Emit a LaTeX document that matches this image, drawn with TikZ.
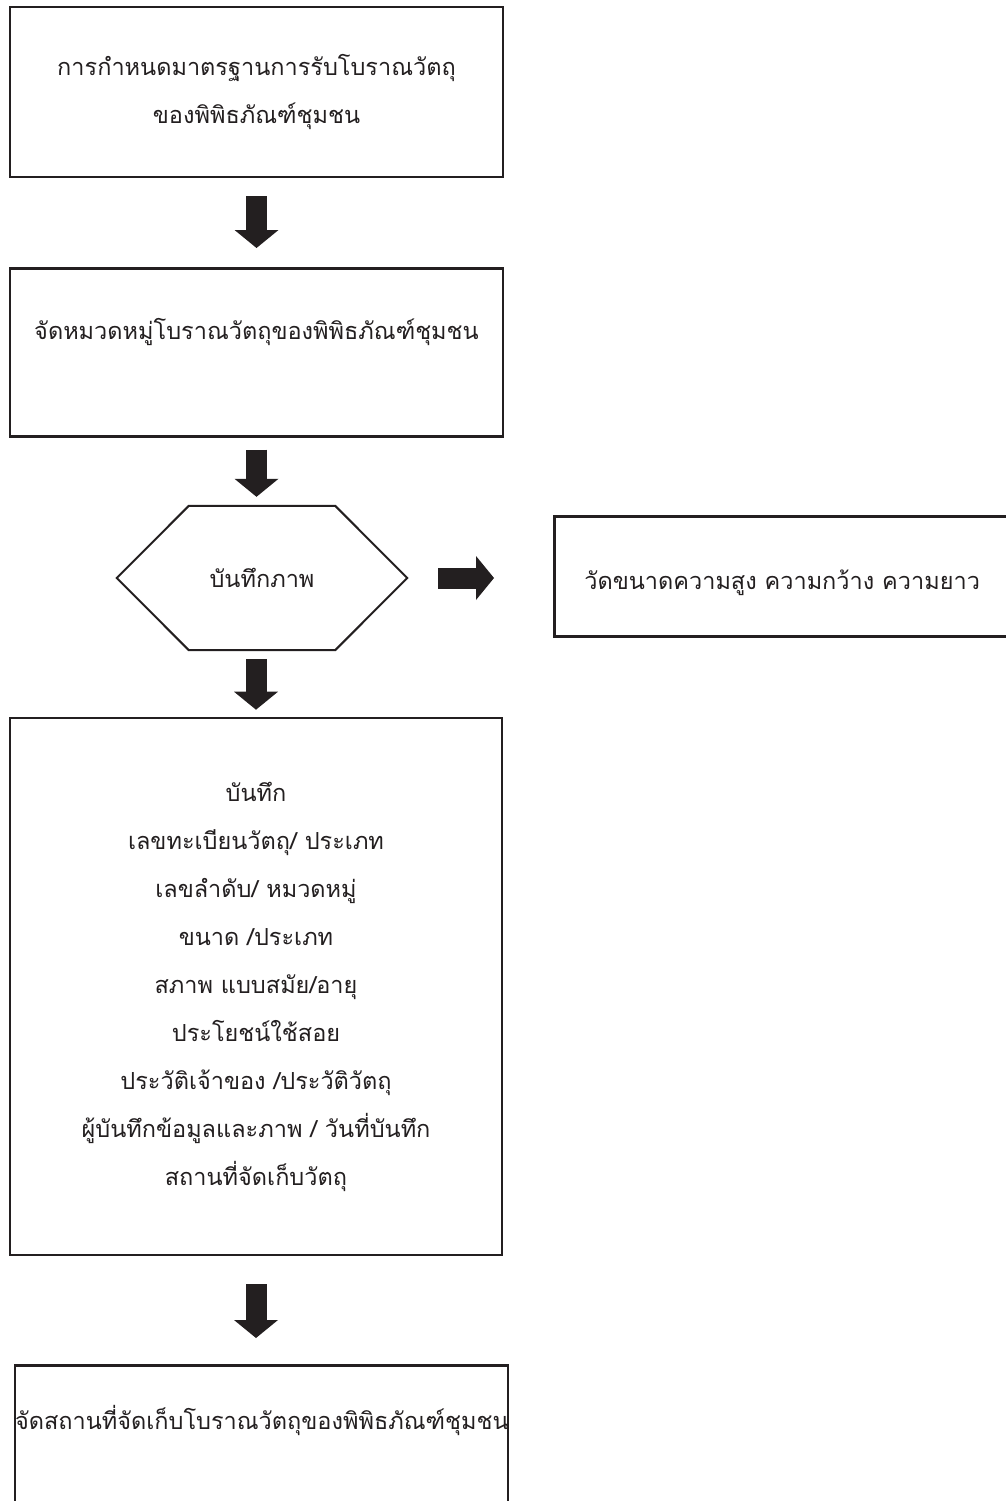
\documentclass[tikz,border=0pt]{standalone}
\usepackage{fontspec}
\newfontfamily\thaifont[Script=Thai]{Loma}
\usetikzlibrary{arrows.meta}
\definecolor{fcink}{HTML}{231F20}

\tikzset{
  flowbox/.style={
    draw=fcink,
    line width=2.6pt,
    text width=493pt,
    align=center,
    inner xsep=0pt
  },
  fatarrow/.style={
    draw=fcink,
    line width=21pt,
    -{Triangle[width=44pt,length=18pt,line width=0pt]}
  }
}

\begin{document}
\begin{tikzpicture}[x=1pt, y=-1pt,
  every node/.style={font=\thaifont\fontsize{23.5}{48}\selectfont, text=fcink}]

  \useasboundingbox (0,0) rectangle (1006,1501);

  % --------------------------------------------------------------------
  % Main column
  % --------------------------------------------------------------------

  \node[flowbox, minimum height=170pt] (std) at (256.5,92)
    {การกำหนดมาตรฐานการรับโบราณวัตถุ\\ของพิพิธภัณฑ์ชุมชน};

  \node[flowbox, anchor=north, inner ysep=0pt,
        text height=71pt, text depth=97pt] (cls) at (256.5,267)
    {จัดหมวดหมู่โบราณวัตถุของพิพิธภัณฑ์ชุมชน};

  \node[minimum width=290pt, minimum height=144pt] (photo) at (262,578)
    {บันทึกภาพ};
  \draw[fcink, line width=2pt, line join=miter]
    (photo.west)
    -- ([xshift=72pt]photo.north west)
    -- ([xshift=-72pt]photo.north east)
    -- (photo.east)
    -- ([xshift=-72pt]photo.south east)
    -- ([xshift=72pt]photo.south west)
    -- cycle;

  \node[flowbox, minimum height=537pt, text width=492pt] (rec) at (256,986.5)
    {บันทึก\\
     เลขทะเบียนวัตถุ/ ประเภท\\
     เลขลำดับ/ หมวดหมู่\\
     ขนาด /ประเภท\\
     สภาพ แบบสมัย/อายุ\\
     ประโยชน์ใช้สอย\\
     ประวัติเจ้าของ /ประวัติวัตถุ\\
     ผู้บันทึกข้อมูลและภาพ / วันที่บันทึก\\
     สถานที่จัดเก็บวัตถุ};

  \node[flowbox, anchor=north, inner ysep=0pt,
        text height=64pt, text depth=120pt] (store) at (261.5,1364)
    {จัดสถานที่จัดเก็บโบราณวัตถุของพิพิธภัณฑ์ชุมชน};

  % --------------------------------------------------------------------
  % Side box
  % --------------------------------------------------------------------

  \node[flowbox, anchor=north west, inner xsep=30pt,
        inner ysep=0pt, text width=460pt, align=left,
        text height=73pt, text depth=47pt] (meas) at (553,515)
    {วัดขนาดความสูง ความกว้าง ความยาว};

  % --------------------------------------------------------------------
  % Arrows
  % --------------------------------------------------------------------

  \draw[fatarrow, shorten <=18pt, shorten >=19pt] (std.south) -- (cls.north);
  \draw[fatarrow, shorten <=12pt, shorten >=9pt] (cls.south) -- (cls.south |- photo.north);
  \draw[fatarrow, shorten <=9pt, shorten >=7pt] (photo.south -| rec.north) -- (rec.north);
  \draw[fatarrow, shorten <=28pt, shorten >=26pt] (rec.south) -- (rec.south |- store.north);
  \draw[fatarrow, shorten <=31pt, shorten >=59pt] (photo.east) -- (photo.east -| meas.west);

\end{tikzpicture}
\end{document}
